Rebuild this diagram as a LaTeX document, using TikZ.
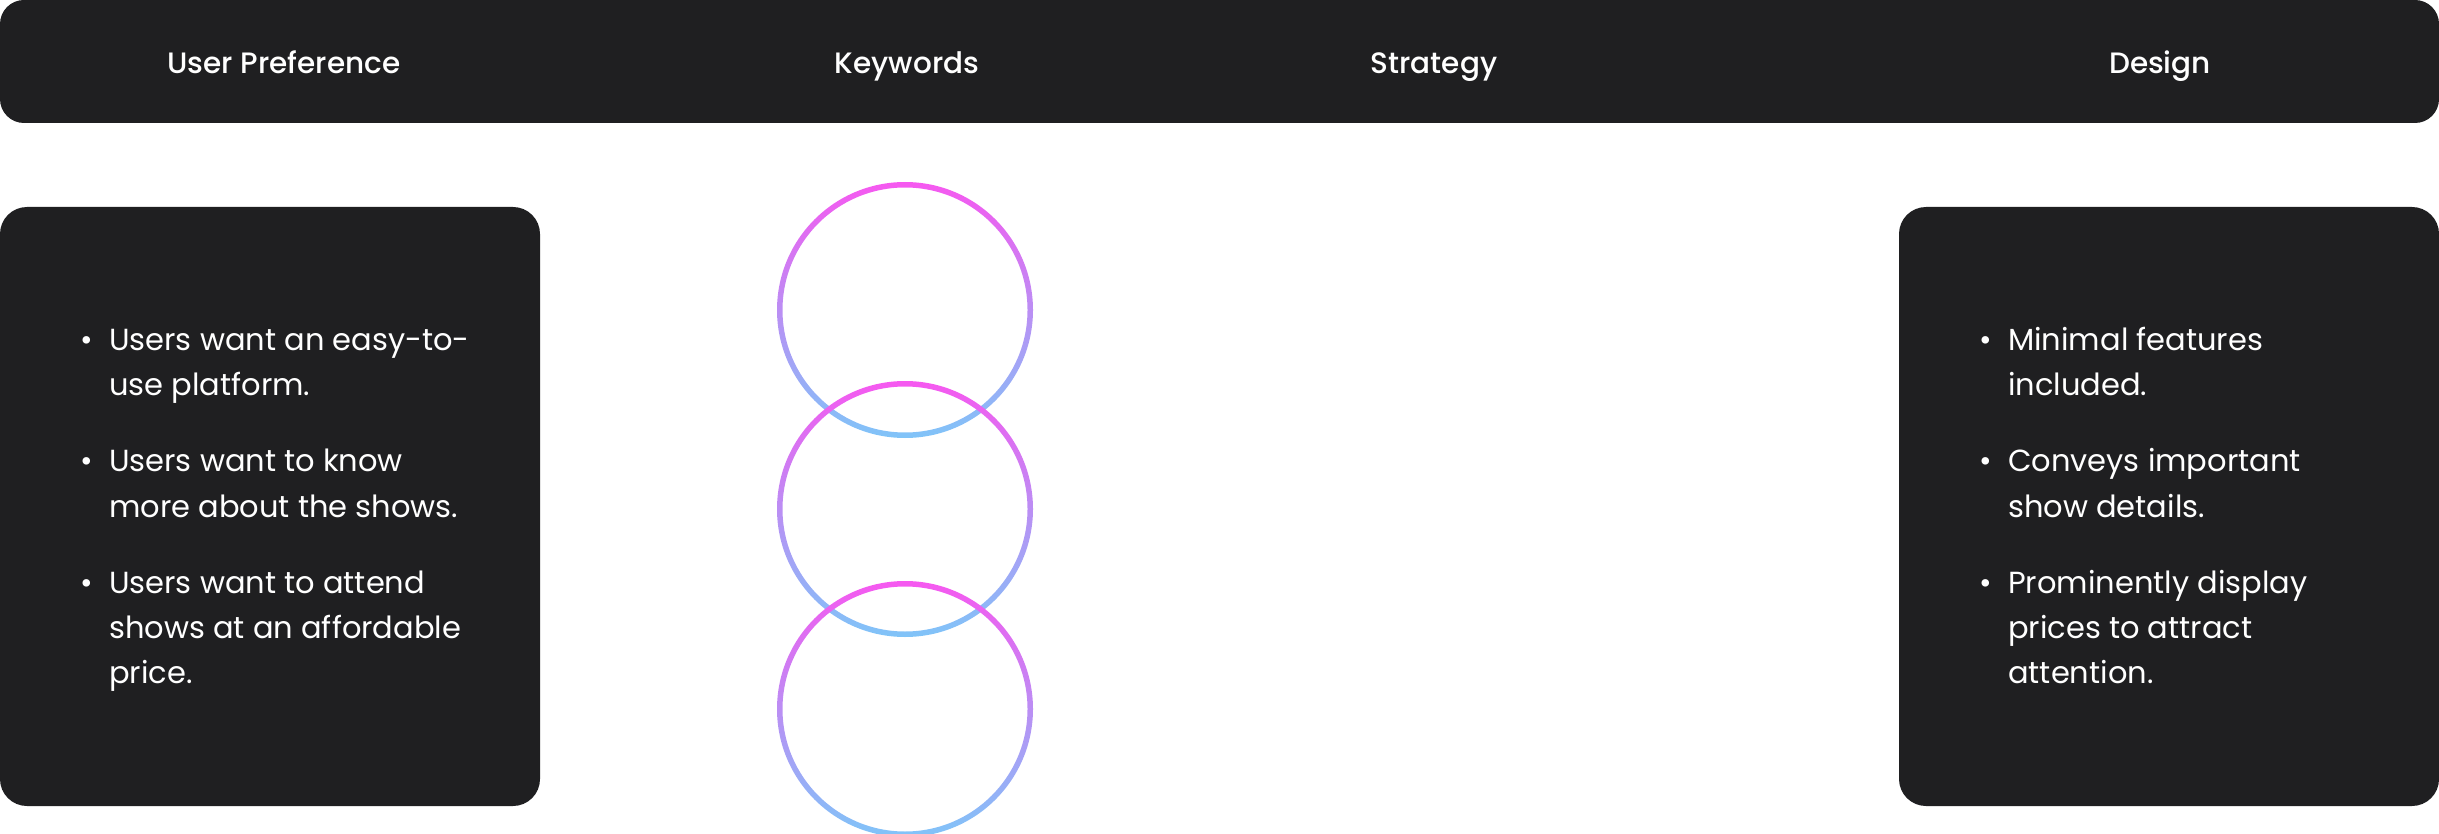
\documentclass[tikz,border=0pt]{standalone}
\usepackage{fontspec}
\setmainfont{Poppins}
\IfFontExistsTF{Poppins Medium}
    {\newfontfamily\headface{Poppins Medium}}
    {\newfontfamily\headface{Poppins}[FakeBold=0.4]}
\usepackage{tikz}
\usetikzlibrary{arrows.meta,positioning}
\definecolor{panelgray}{RGB}{31,31,33}
\definecolor{ringpink}{RGB}{246,88,240}
\definecolor{ringblue}{RGB}{128,196,248}

\newcommand{\bodyfont}{\fontsize{30.5}{45}\selectfont}
\newcommand{\headfont}{\headface\fontsize{29.5}{35}\selectfont}

\begin{document}
\begin{tikzpicture}[x=1pt, y=-1pt,
    panel/.style={fill=panelgray, rounded corners=27pt, inner sep=0pt},
    head/.style={text=white, font=\headfont, anchor=base},
    listtext/.style={text=white, font=\bodyfont, anchor=base west, inner sep=0pt},
    kwcircle/.style={circle, minimum size=250pt, inner sep=0pt, text=white, font=\bodyfont},
    stratbox/.style={draw=white, thick, rounded corners=20pt, minimum width=435pt,
                     minimum height=128pt, text=white, font=\bodyfont, align=center},
    flow/.style={white, line width=2pt, dashed, -{Straight Barb[length=11pt,width=22pt]},
                 shorten <=58pt, shorten >=55pt},
    chev/.style={white, line width=2pt}]

    \useasboundingbox (0,0) rectangle (2439,834);

    % Header
    \node[panel, minimum width=2439pt, minimum height=123pt, rounded corners=24pt] (bar) at (1219.5,61.5) {};
    \node[head] (hPref) at (284,74) {User Preference};
    \node[head] (hKey) at (907,74) {Keywords};
    \node[head] (hStrat) at (1434,74) {Strategy};
    \node[head] (hDesign) at (2160,74) {Design};

    % User preference
    \node[panel, minimum width=540pt, minimum height=599pt] (pref) at (270,506.5) {};
    \node[listtext] (prefList) at (80,350) {\begin{tabular}[t]{@{}p{29pt}@{}l@{}}
        \textbullet & Users want an easy-to-\\
                    & use platform.\\[32pt]
        \textbullet & Users want to know\\
                    & more about the shows.\\[32pt]
        \textbullet & Users want to attend\\
                    & shows at an affordable\\
                    & price.
    \end{tabular}};

    % Design
    \node[panel, minimum width=540pt, minimum height=599pt] (design) at (2169,506.5) {};
    \node[listtext] (designList) at (1979,350) {\begin{tabular}[t]{@{}p{29pt}@{}l@{}}
        \textbullet & Minimal features\\
                    & included.\\[32pt]
        \textbullet & Conveys important\\
                    & show details.\\[32pt]
        \textbullet & Prominently display\\
                    & prices to attract\\
                    & attention.
    \end{tabular}};

    % Keywords
    \node[kwcircle] (kw1) at (905,310) {Intuitive};
    \node[kwcircle] (kw2) at (905,509) {Informative};
    \node[kwcircle] (kw3) at (905,709) {Promotion};
    \foreach \k in {kw1,kw2,kw3} {
        \shade[top color=ringpink, bottom color=ringblue, even odd rule]
            (\k.center) circle[radius=128pt] (\k.center) circle[radius=122.5pt];
    }

    % Strategy
    \node[stratbox] (st1) at (1443,308) {Less is More};
    \node[stratbox, minimum height=174pt] (st2) at (1443,507) {Clear Information\\Architecture};
    \node[stratbox] (st3) at (1443,705) {Price Highlight};

    \draw[flow] (kw1) -- (st1);
    \draw[flow] (kw2) -- (st2);
    \draw[flow] (kw3) -- (st3);

    \draw[chev] (645,481) -- (678,509) -- (645,537);
    \draw[chev] (1765,479) -- (1787,506) -- (1765,533);
\end{tikzpicture}
\end{document}
